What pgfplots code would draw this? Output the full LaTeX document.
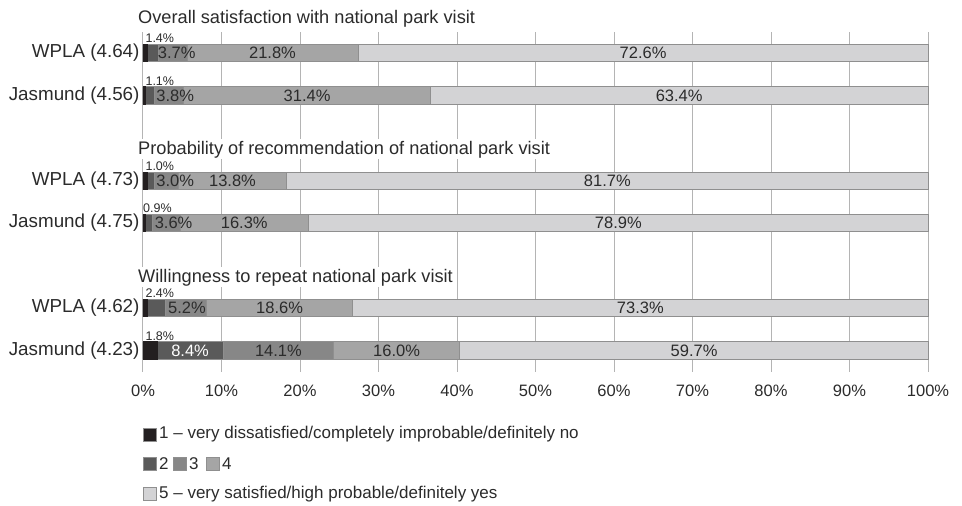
\documentclass[border=0pt]{standalone}
\usepackage{pgfplots}
\pgfplotsset{compat=1.18}
\usepackage{fontspec}
\setmainfont{Liberation Sans}
\definecolor{c1}{HTML}{231F20}
\definecolor{c2}{HTML}{5A5A5A}
\definecolor{c3}{HTML}{878787}
\definecolor{c4}{HTML}{A5A5A5}
\definecolor{c5}{HTML}{D3D3D5}
\definecolor{edgec}{HTML}{8F8F8F}
\definecolor{gridc}{HTML}{B4B4B4}
\definecolor{txtc}{HTML}{2B2B2B}
\newcommand{\FontBig}{\fontsize{18.2}{20}\selectfont}
\newcommand{\FontTick}{\fontsize{18.8}{20}\selectfont}
\newcommand{\FontMid}{\fontsize{16.5}{18}\selectfont}
\newcommand{\FontLeg}{\fontsize{17}{18}\selectfont}
\newcommand{\FontSmall}{\fontsize{12.5}{14}\selectfont}
\tikzset{
  seglab/.style={font=\FontMid, text=txtc, inner sep=0pt},
  smalllab/.style={font=\FontSmall, text=txtc, inner sep=0pt, anchor=base west},
  grouptitle/.style={font=\FontBig, text=txtc, anchor=base west, fill=white, inner xsep=1pt, inner ysep=1.5pt, text height=13.5pt, text depth=3pt},
  leglab/.style={font=\FontLeg, text=txtc, anchor=west, inner sep=0pt},
}
\begin{document}
\begin{tikzpicture}
\path[use as bounding box] (0,0) rectangle (962pt,-506pt);
\begin{axis}[
  at={(143pt,-372pt)}, anchor=south west,
  scale only axis, width=785pt, height=340pt,
  xmin=0, xmax=100, ymin=32, ymax=372, y dir=reverse,
  xbar stacked, bar width=17.5pt,
  axis line style={draw=none}, major tick length=0pt,
  xmajorgrids, grid style={gridc, line width=1pt},
  xtick={0,10,...,100},
  xticklabel={\pgfmathprintnumber{\tick}\%},
  /pgf/number format/assume math mode=true,
  xticklabel style={font=\FontMid, text=txtc, yshift=-9.5pt},
  ytick={53,95.5,181,223,308,350.5},
  yticklabels={WPLA (4.64),Jasmund (4.56),WPLA (4.73),Jasmund (4.75),WPLA (4.62),Jasmund (4.23)},
  yticklabel style={font=\FontTick, text=txtc},
  clip=false,
]
\addplot[fill=c1, draw=c1, line width=0.6pt] coordinates {(0.5,53) (0.3,95.5) (0.5,181) (0.3,223) (0.5,308) (1.8,350.5)};
\addplot[fill=c2, draw=edgec, line width=0.8pt] coordinates {(1.4,53) (1.1,95.5) (1.0,181) (0.9,223) (2.4,308) (8.4,350.5)};
\addplot[fill=c3, draw=edgec, line width=0.8pt] coordinates {(3.7,53) (3.8,95.5) (3.0,181) (3.6,223) (5.2,308) (14.1,350.5)};
\addplot[fill=c4, draw=edgec, line width=0.8pt] coordinates {(21.8,53) (31.4,95.5) (13.8,181) (16.3,223) (18.6,308) (16.0,350.5)};
\addplot[fill=c5, draw=edgec, line width=0.8pt] coordinates {(72.6,53) (63.4,95.5) (81.7,181) (78.9,223) (73.3,308) (59.7,350.5)};
\coordinate (a1) at (axis cs:4.3,53);
\coordinate (a2) at (axis cs:16.5,53);
\coordinate (a3) at (axis cs:63.7,53);
\coordinate (b1) at (axis cs:4.1,95.5);
\coordinate (b2) at (axis cs:20.9,95.5);
\coordinate (b3) at (axis cs:68.3,95.5);
\coordinate (c1p) at (axis cs:4.1,181);
\coordinate (c2p) at (axis cs:11.4,181);
\coordinate (c3p) at (axis cs:59.15,181);
\coordinate (d1) at (axis cs:3.9,223);
\coordinate (d2) at (axis cs:12.9,223);
\coordinate (d3) at (axis cs:60.55,223);
\coordinate (e1) at (axis cs:5.6,308);
\coordinate (e2) at (axis cs:17.4,308);
\coordinate (e3) at (axis cs:63.35,308);
\coordinate (f1) at (axis cs:6.0,350.5);
\coordinate (f2) at (axis cs:17.25,350.5);
\coordinate (f3) at (axis cs:32.3,350.5);
\coordinate (f4) at (axis cs:70.2,350.5);
\coordinate (s1) at (axis cs:0.3,42.5);
\coordinate (s2) at (axis cs:0.3,85);
\coordinate (s3) at (axis cs:0.3,170.5);
\coordinate (s4) at (axis cs:0.0,212.5);
\coordinate (s5) at (axis cs:0.3,297.5);
\coordinate (s6) at (axis cs:0.3,340);
\end{axis}
\node[grouptitle] at (137pt,-23.5pt) {Overall satisfaction with national park visit};
\node[grouptitle] at (137pt,-154pt) {Probability of recommendation of national park visit};
\node[grouptitle] at (137pt,-282pt) {Willingness to repeat national park visit};
\node[seglab] at (a1) {3.7\%};
\node[seglab] at (a2) {21.8\%};
\node[seglab] at (a3) {72.6\%};
\node[seglab] at (b1) {3.8\%};
\node[seglab] at (b2) {31.4\%};
\node[seglab] at (b3) {63.4\%};
\node[seglab] at (c1p) {3.0\%};
\node[seglab] at (c2p) {13.8\%};
\node[seglab] at (c3p) {81.7\%};
\node[seglab] at (d1) {3.6\%};
\node[seglab] at (d2) {16.3\%};
\node[seglab] at (d3) {78.9\%};
\node[seglab] at (e1) {5.2\%};
\node[seglab] at (e2) {18.6\%};
\node[seglab] at (e3) {73.3\%};
\node[seglab, text=white] at (f1) {8.4\%};
\node[seglab] at (f2) {14.1\%};
\node[seglab] at (f3) {16.0\%};
\node[seglab] at (f4) {59.7\%};
\node[smalllab] at (s1) {1.4\%};
\node[smalllab] at (s2) {1.1\%};
\node[smalllab] at (s3) {1.0\%};
\node[smalllab] at (s4) {0.9\%};
\node[smalllab] at (s5) {2.4\%};
\node[smalllab] at (s6) {1.8\%};
\filldraw[fill=c1, draw=edgec, line width=0.5pt] (143pt,-428pt) rectangle (156pt,-441pt);
\node[leglab] at (159pt,-434.5pt) {1 – very dissatisfied/completely improbable/definitely no};
\filldraw[fill=c2, draw=edgec, line width=0.5pt] (143pt,-457.5pt) rectangle (156pt,-470.5pt);
\node[leglab] at (159pt,-464pt) {2};
\filldraw[fill=c3, draw=edgec, line width=0.5pt] (173pt,-457.5pt) rectangle (186pt,-470.5pt);
\node[leglab] at (189pt,-464pt) {3};
\filldraw[fill=c4, draw=edgec, line width=0.5pt] (206pt,-457.5pt) rectangle (219pt,-470.5pt);
\node[leglab] at (222pt,-464pt) {4};
\filldraw[fill=c5, draw=edgec, line width=0.5pt] (143pt,-487.5pt) rectangle (156pt,-500.5pt);
\node[leglab] at (159pt,-494pt) {5 – very satisfied/high probable/definitely yes};
\end{tikzpicture}
\end{document}
